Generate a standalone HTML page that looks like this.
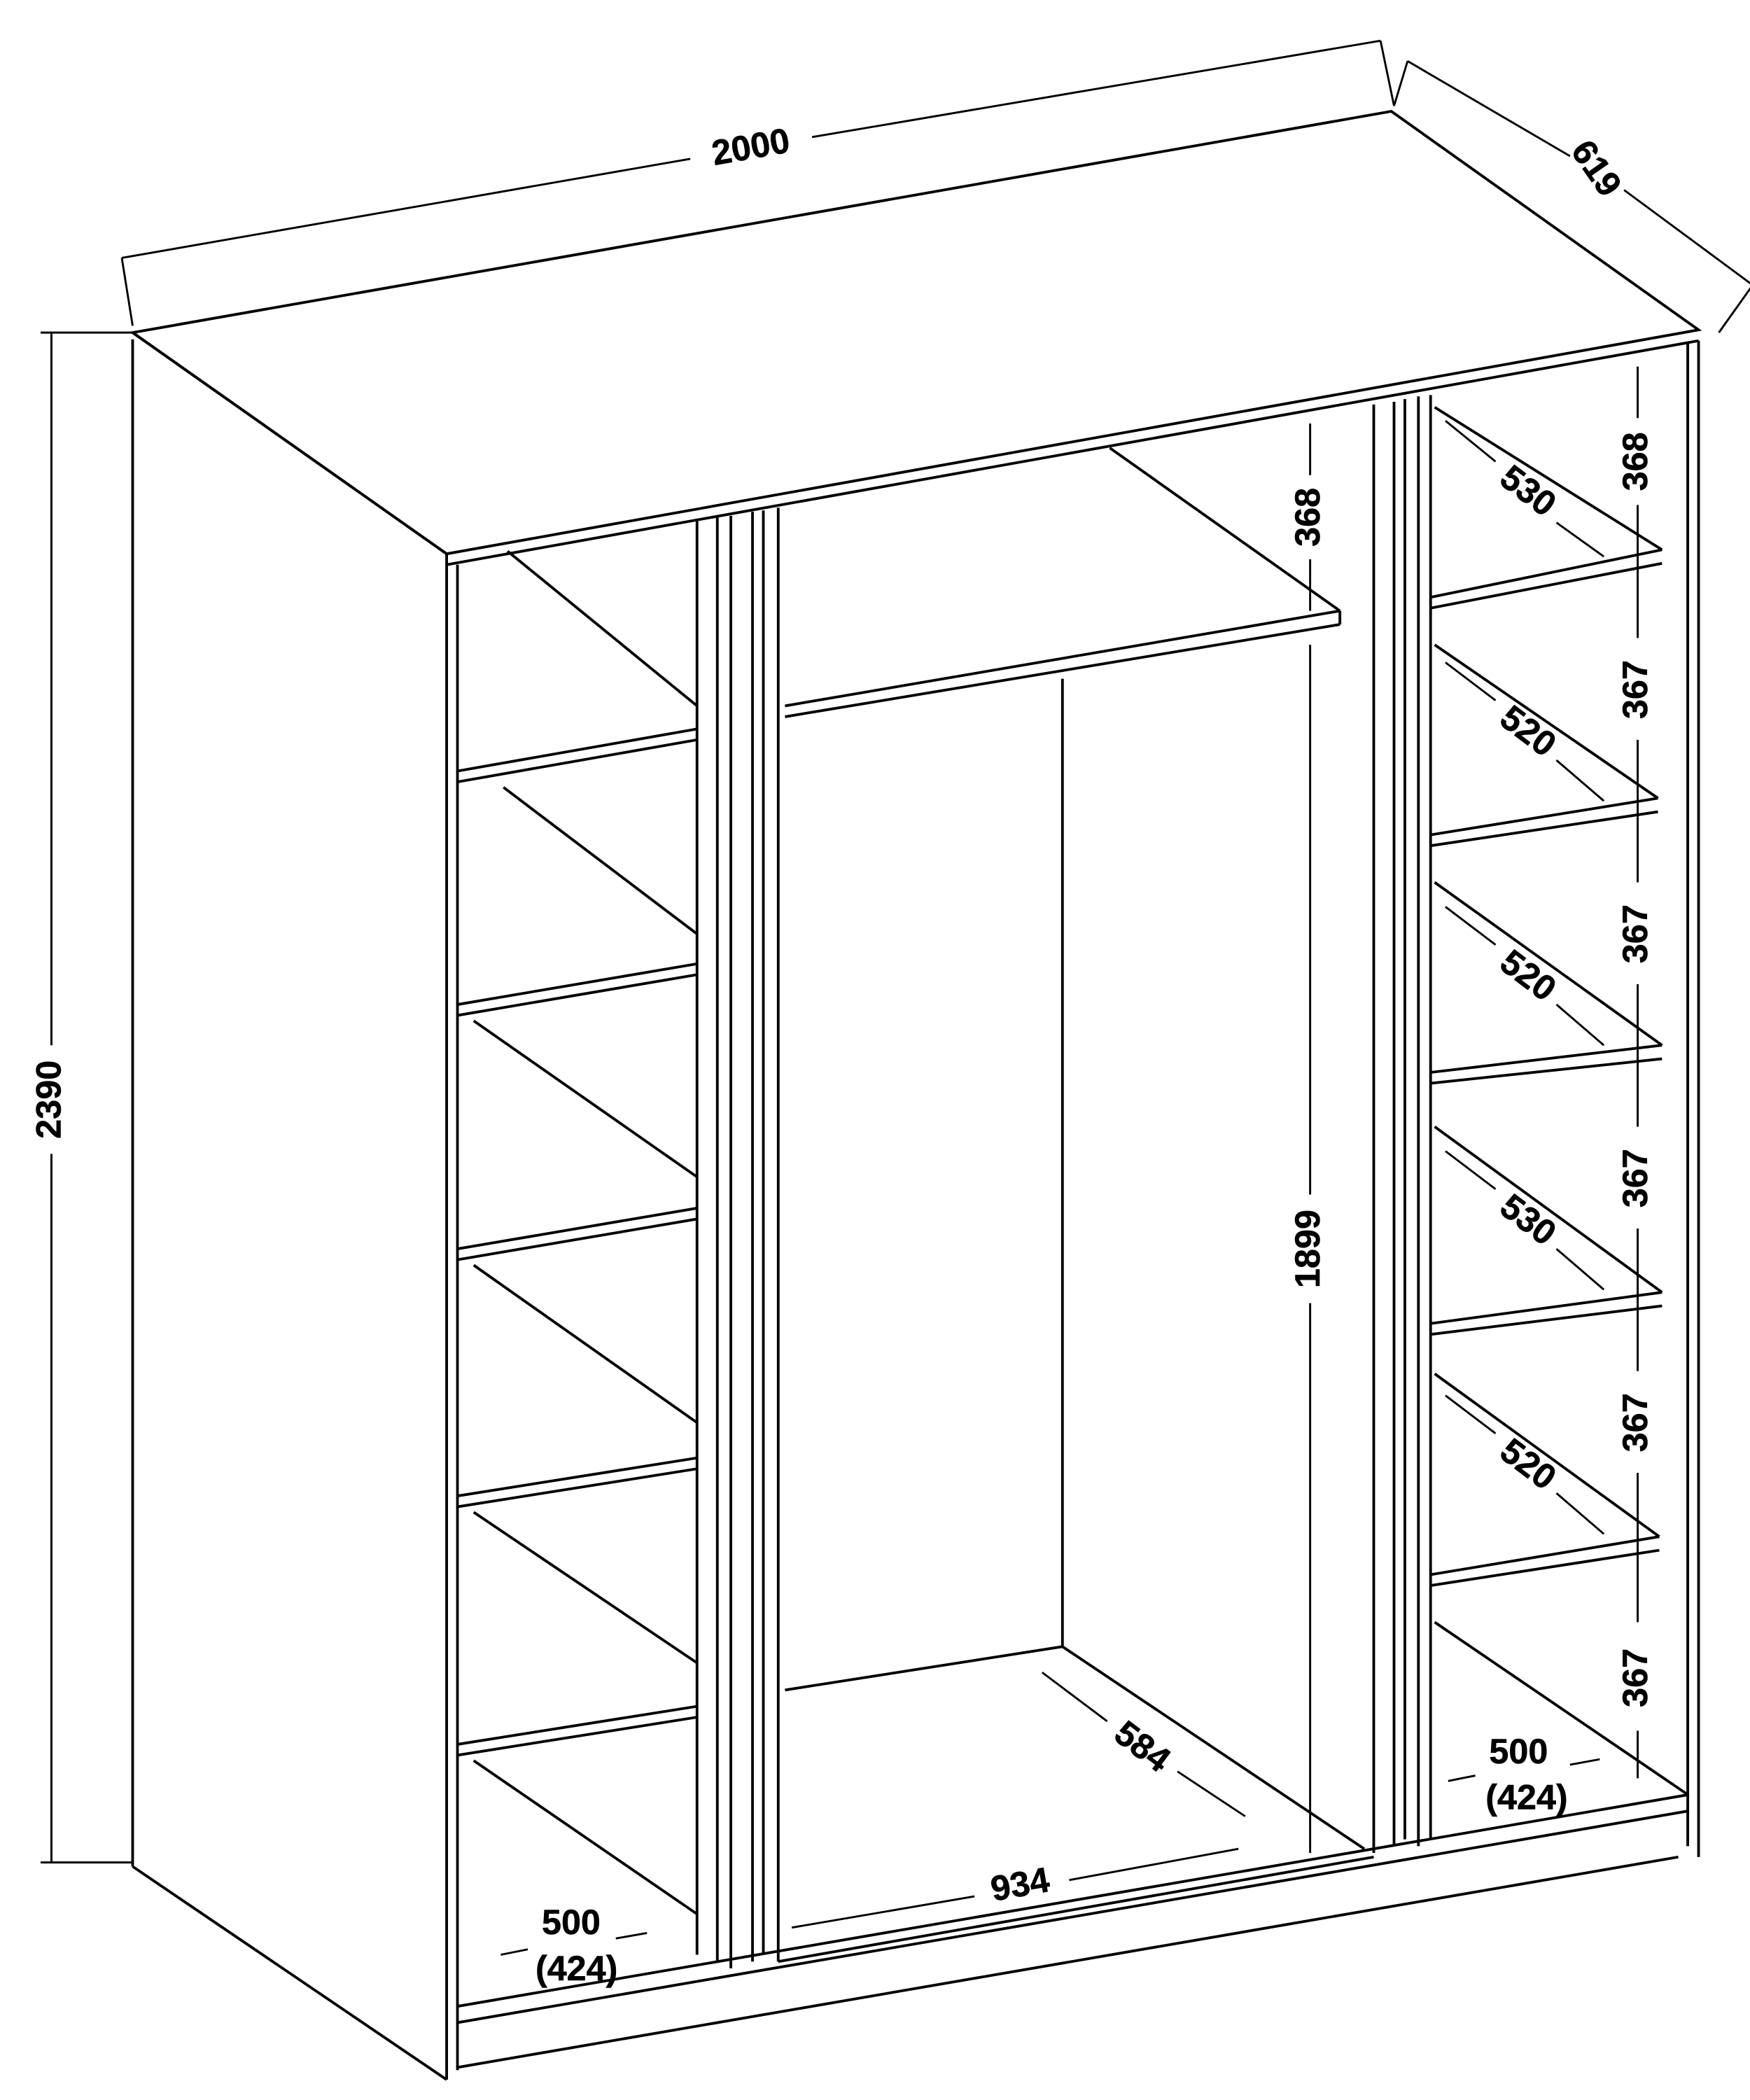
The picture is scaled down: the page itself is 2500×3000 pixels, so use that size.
<!DOCTYPE html>
<html><head><meta charset="utf-8"><style>
html,body{margin:0;padding:0;background:#fff;}
svg{display:block}
text{font-family:"Liberation Sans",sans-serif;font-size:26px;font-weight:bold;fill:#000;text-anchor:middle;dominant-baseline:middle;stroke:#000;stroke-width:0.3}
</style></head><body>
<svg width="2500" height="3000" viewBox="0 0 1293 1547" preserveAspectRatio="none" xmlns="http://www.w3.org/2000/svg">
<g fill="none" stroke="#000" stroke-width="2">
<polygon points="98,245 1028,82 1255,243 330,408" fill="#fff"/>
<line x1="330" y1="416" x2="1255" y2="251"/>
<line x1="98" y1="250" x2="98" y2="1375"/>
<line x1="98" y1="245" x2="330" y2="408"/>
<line x1="330" y1="408" x2="330" y2="1532"/>
<line x1="338" y1="416" x2="338" y2="1525"/>
<line x1="98" y1="1375" x2="330" y2="1532"/>
<line x1="1247" y1="252" x2="1247" y2="1360"/>
<line x1="1255" y1="251" x2="1255" y2="1368"/>
<line x1="338" y1="1478" x2="1248" y2="1322"/>
<line x1="338" y1="1490" x2="1248" y2="1334"/>
<line x1="338" y1="1523" x2="1240" y2="1368"/>
<line x1="515" y1="384" x2="515" y2="1440"/>
<line x1="530" y1="381" x2="530" y2="1445"/>
<line x1="540" y1="380" x2="540" y2="1450"/>
<line x1="556" y1="377" x2="556" y2="1445"/>
<line x1="564" y1="376" x2="564" y2="1440"/>
<line x1="575" y1="374" x2="575" y2="1445"/>
<line x1="1015" y1="298" x2="1015" y2="1365"/>
<line x1="1030" y1="296" x2="1030" y2="1360"/>
<line x1="1038" y1="294" x2="1038" y2="1355"/>
<line x1="1048" y1="292" x2="1048" y2="1360"/>
<line x1="1057" y1="291" x2="1057" y2="1355"/>
<g>
<line x1="375" y1="406" x2="515" y2="520"/>
<line x1="338" y1="568" x2="515" y2="537"/><line x1="338" y1="576" x2="515" y2="545"/>
<line x1="372" y1="580" x2="515" y2="688"/>
<line x1="338" y1="740" x2="515" y2="710"/><line x1="338" y1="748" x2="515" y2="718"/>
<line x1="350" y1="752" x2="515" y2="867"/>
<line x1="338" y1="920" x2="515" y2="890"/><line x1="338" y1="928" x2="515" y2="898"/>
<line x1="350" y1="932" x2="515" y2="1048"/>
<line x1="338" y1="1102" x2="515" y2="1074"/><line x1="338" y1="1110" x2="515" y2="1082"/>
<line x1="350" y1="1114" x2="515" y2="1225"/>
<line x1="338" y1="1285" x2="515" y2="1257"/><line x1="338" y1="1293" x2="515" y2="1265"/>
<line x1="350" y1="1297" x2="515" y2="1410"/>
</g>
<line x1="820" y1="330" x2="990" y2="450"/>
<line x1="580" y1="520" x2="990" y2="450"/><line x1="580" y1="528" x2="990" y2="460"/>
<line x1="990" y1="450" x2="990" y2="460"/>
<line x1="785" y1="500" x2="785" y2="1213"/>
<line x1="580" y1="1245" x2="785" y2="1213"/>
<line x1="785" y1="1213" x2="1008" y2="1362"/>
<line x1="575" y1="1445" x2="1015" y2="1368"/>
<g>
<line x1="1060" y1="300" x2="1228" y2="405"/>
<line x1="1057" y1="440" x2="1228" y2="405"/><line x1="1057" y1="448" x2="1228" y2="415"/>
<line x1="1060" y1="475" x2="1225" y2="588"/>
<line x1="1057" y1="615" x2="1225" y2="588"/><line x1="1057" y1="623" x2="1225" y2="598"/>
<line x1="1060" y1="650" x2="1228" y2="770"/>
<line x1="1057" y1="790" x2="1228" y2="770"/><line x1="1057" y1="798" x2="1228" y2="780"/>
<line x1="1060" y1="830" x2="1228" y2="952"/>
<line x1="1057" y1="975" x2="1228" y2="952"/><line x1="1057" y1="983" x2="1228" y2="962"/>
<line x1="1060" y1="1012" x2="1226" y2="1132"/>
<line x1="1057" y1="1160" x2="1226" y2="1132"/><line x1="1057" y1="1168" x2="1226" y2="1142"/>
<line x1="1060" y1="1195" x2="1247" y2="1322"/>
</g>
</g>
<g fill="none" stroke="#000" stroke-width="1.5">
<line x1="90" y1="190" x2="510" y2="117"/><line x1="600" y1="101" x2="1020" y2="30"/>
<line x1="90" y1="190" x2="98" y2="240"/><line x1="1020" y1="30" x2="1030" y2="78"/>
<line x1="1040" y1="45" x2="1160" y2="115"/><line x1="1200" y1="140" x2="1295" y2="210"/>
<line x1="1040" y1="45" x2="1030" y2="78"/><line x1="1295" y1="210" x2="1270" y2="245"/>
<line x1="38" y1="245" x2="38" y2="770"/><line x1="38" y1="850" x2="38" y2="1372"/>
<line x1="30" y1="245" x2="98" y2="245"/><line x1="30" y1="1372" x2="98" y2="1372"/>
<line x1="968" y1="312" x2="968" y2="350"/><line x1="968" y1="412" x2="968" y2="450"/>
<line x1="968" y1="475" x2="968" y2="880"/><line x1="968" y1="960" x2="968" y2="1365"/>
<line x1="1210" y1="270" x2="1210" y2="308"/><line x1="1210" y1="372" x2="1210" y2="470"/>
<line x1="1210" y1="545" x2="1210" y2="650"/><line x1="1210" y1="725" x2="1210" y2="830"/>
<line x1="1210" y1="905" x2="1210" y2="1010"/><line x1="1210" y1="1085" x2="1210" y2="1195"/>
<line x1="1210" y1="1275" x2="1210" y2="1310"/>
<line x1="1068" y1="310" x2="1105" y2="340"/><line x1="1150" y1="385" x2="1185" y2="410"/>
<line x1="1068" y1="488" x2="1105" y2="516"/><line x1="1150" y1="560" x2="1185" y2="590"/>
<line x1="1068" y1="668" x2="1105" y2="696"/><line x1="1150" y1="740" x2="1185" y2="770"/>
<line x1="1068" y1="848" x2="1105" y2="876"/><line x1="1150" y1="920" x2="1185" y2="950"/>
<line x1="1068" y1="1028" x2="1105" y2="1056"/><line x1="1150" y1="1100" x2="1185" y2="1130"/>
<line x1="770" y1="1232" x2="818" y2="1268"/><line x1="870" y1="1305" x2="920" y2="1338"/>
<line x1="585" y1="1420" x2="720" y2="1397"/><line x1="790" y1="1385" x2="915" y2="1362"/>
<line x1="370" y1="1440" x2="390" y2="1436"/><line x1="455" y1="1428" x2="478" y2="1424"/>
<line x1="1070" y1="1312" x2="1090" y2="1308"/><line x1="1160" y1="1300" x2="1182" y2="1296"/>
</g>
<g>
<text transform="translate(555,110) rotate(-10)">2000</text>
<text transform="translate(1178,125) rotate(55)">619</text>
<text transform="translate(38,810) rotate(-90)">2390</text>
<text transform="translate(968,381) rotate(-90)">368</text>
<text transform="translate(968,920) rotate(-90)">1899</text>
<text transform="translate(1210,340) rotate(-90)">368</text>
<text transform="translate(1210,508) rotate(-90)">367</text>
<text transform="translate(1210,688) rotate(-90)">367</text>
<text transform="translate(1210,868) rotate(-90)">367</text>
<text transform="translate(1210,1048) rotate(-90)">367</text>
<text transform="translate(1210,1236) rotate(-90)">367</text>
<text transform="translate(1128,363) rotate(37)">530</text>
<text transform="translate(1128,540) rotate(37)">520</text>
<text transform="translate(1128,720) rotate(37)">520</text>
<text transform="translate(1128,900) rotate(37)">530</text>
<text transform="translate(1128,1080) rotate(37)">520</text>
<text transform="translate(843,1288) rotate(37)">584</text>
<text transform="translate(754,1390) rotate(-10)">934</text>
<text x="422" y="1418">500</text>
<text x="426" y="1452">(424)</text>
<text x="1122" y="1292">500</text>
<text x="1128" y="1326">(424)</text>
</g>
</svg>
</body></html>
